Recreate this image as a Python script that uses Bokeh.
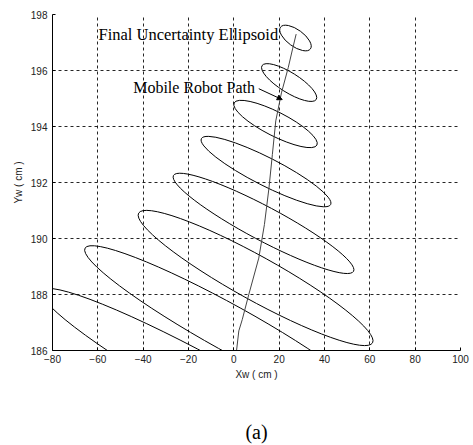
from bokeh.plotting import figure
from bokeh.models import Range1d, FixedTicker, Label, Arrow, NormalHead, ColumnDataSource, LinearAxis
from bokeh.embed import file_html
from bokeh.resources import INLINE

# Uncertainty ellipses (center, axes lengths in data units, tilt in degrees)
ell_cx = [27.2, 24.4, 18.4, 14.2, 13.1, 9.6, -1.8, -6.0]
ell_cy = [197.16, 195.57, 194.09, 192.39, 190.54, 188.59, 186.79, 184.6]
ell_w = [16.3, 28.2, 41.0, 64.0, 90.0, 118.0, 146.0, 180.0]
ell_h = [0.6, 0.71, 0.86, 1.0, 1.21, 1.57, 1.64, 1.79]
ell_tilt = [-36, -32, -27, -27, -28, -29, -29, -29]

# Mobile robot path
path_x = [1.2, 2.2, 3.7, 6.6, 11.0, 13.5, 15.5, 17.0, 18.5, 21.0, 24.0, 26.0, 27.5]
path_y = [186.0, 186.7, 187.1, 188.0, 189.3, 190.5, 191.8, 193.0, 194.2, 195.2, 196.1, 196.8, 197.3]

x_ticks = [-80, -60, -40, -20, 0, 20, 40, 60, 80, 100]
y_ticks = [186, 188, 190, 192, 194, 196, 198]

p = figure(width=473, height=445, output_backend="svg", toolbar_location=None,
           x_range=Range1d(-80, 100), y_range=Range1d(186, 198),
           min_border_left=52, min_border_right=13, min_border_top=14, min_border_bottom=95)
p.outline_line_color = None
p.background_fill_color = "white"

for ax, ticks in ((p.xaxis, x_ticks), (p.yaxis, y_ticks)):
    ax.ticker = FixedTicker(ticks=ticks)
    ax.major_tick_in = 3
    ax.major_tick_out = 0
    ax.minor_tick_in = 0
    ax.minor_tick_out = 0
    ax.axis_line_color = "black"
    ax.major_tick_line_color = "black"
    ax.major_label_text_font = "Liberation Sans"
    ax.major_label_text_font_size = "10px"
    ax.major_label_text_color = "#222222"
    ax.axis_label_text_font = "Liberation Sans"
    ax.axis_label_text_font_size = "10px"
    ax.axis_label_text_font_style = "normal"
    ax.axis_label_text_color = "#222222"

p.xaxis.axis_label = "Xw ( cm )"
p.yaxis.axis_label = "Yw ( cm )"
p.xaxis.major_label_standoff = 4
p.xaxis.axis_label_standoff = 3
p.yaxis.major_label_standoff = 5
p.yaxis.axis_label_standoff = 4

for g in (p.xgrid, p.ygrid):
    g.grid_line_color = "black"
    g.grid_line_dash = "3 3"
    g.grid_line_width = 1
    g.grid_line_alpha = 0.85

src = ColumnDataSource(dict(x=ell_cx, y=ell_cy, w=ell_w, h=ell_h, a=ell_tilt))
p.ellipse(x="x", y="y", width="w", height="h", angle="a", angle_units="deg",
          source=src, fill_color=None, line_color="black", line_width=1)

p.line(path_x, path_y, line_color="#444444", line_width=1)

p.add_layout(Label(x=-59.7, y=197.29, text="Final Uncertainty Ellipsoid",
                   text_font="Liberation Serif", text_font_size="16.5px",
                   text_baseline="middle", text_align="left", text_color="black"))
p.add_layout(Label(x=-44.4, y=195.41, text="Mobile Robot Path",
                   text_font="Liberation Serif", text_font_size="16px",
                   text_baseline="middle", text_align="left", text_color="black"))
p.add_layout(Arrow(x_start=11.0, y_start=195.35, x_end=21.35, y_end=194.96,
                   line_color="black", line_width=1,
                   end=NormalHead(size=5, fill_color="black", line_color="black")))

# caption "(a)" as the label of a bare extra axis below the x axis
cap_axis = LinearAxis(ticker=FixedTicker(ticks=[]), axis_line_color=None,
                      major_tick_line_color=None, minor_tick_line_color=None,
                      major_tick_in=0, major_tick_out=0, minor_tick_in=0, minor_tick_out=0,
                      major_label_standoff=0, major_label_text_font_size="0px",
                      axis_label="(a)", axis_label_standoff=38,
                      axis_label_text_font="Liberation Serif", axis_label_text_font_size="20px",
                      axis_label_text_font_style="normal", axis_label_text_color="black")
p.add_layout(cap_axis, "below")

open("out.html", "w").write(file_html(p, INLINE))
